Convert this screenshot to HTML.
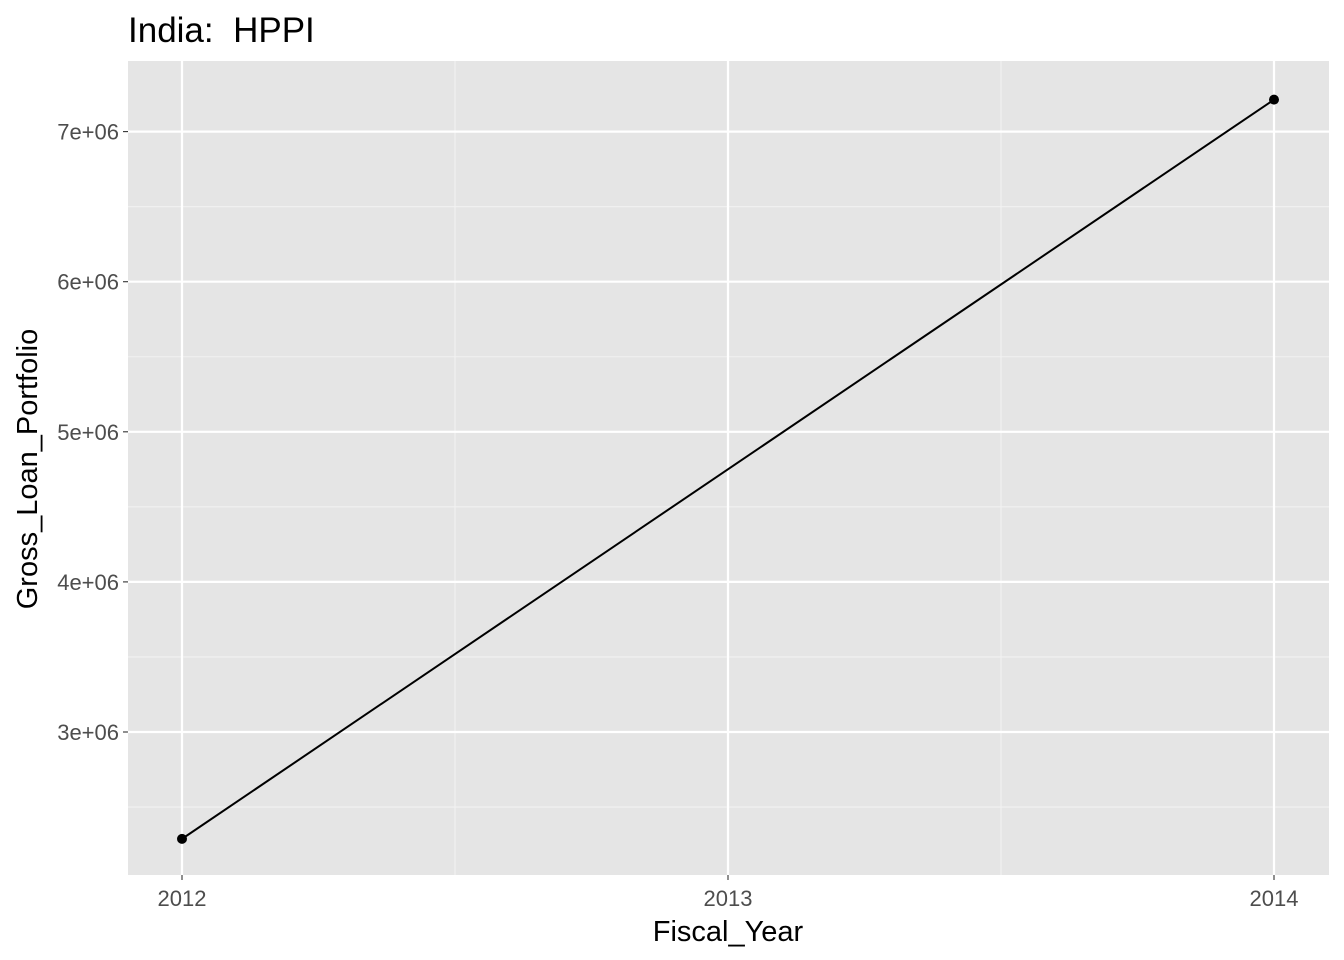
<!DOCTYPE html>
<html><head><meta charset="utf-8"><style>
html,body{margin:0;padding:0;background:#fff;}
svg{display:block;font-family:"Liberation Sans",Arial,sans-serif;}
</style></head><body>
<svg id="chart" width="1344" height="960" viewBox="0 0 1344 960">
<text x="128" y="42" font-size="35" fill="#000" style="white-space:pre" xml:space="preserve">India:  HPPI</text>
<rect x="128" y="61" width="1201" height="814" fill="#e5e5e5"/>
<g id="grid"></g>
<g id="marks"></g>
<g id="axes"></g>
<text x="728" y="941" font-size="29" text-anchor="middle" fill="#000">Fiscal_Year</text>
<text transform="translate(37,469) rotate(-90)" font-size="29" text-anchor="middle" fill="#000">Gross_Loan_Portfolio</text>
</svg>
<script>
const years = [2012, 2014];
const loans = [2288000, 7213000];
const xTicks = [2012, 2013, 2014];
const yTicks = [3e6, 4e6, 5e6, 6e6, 7e6];
const yTickLabels = ["3e+06", "4e+06", "5e+06", "6e+06", "7e+06"];

const NS = "http://www.w3.org/2000/svg";
function x(v){ return 182 + (v - 2012) * 546; }
function y(v){ return 732 - (v - 3e6) / 1e6 * 150.1; }
function mk(tag, attrs, parent){ const e=document.createElementNS(NS,tag); for(const k in attrs) e.setAttribute(k,attrs[k]); parent.appendChild(e); return e; }

const grid=document.getElementById('grid'), marks=document.getElementById('marks'), axes=document.getElementById('axes');
for(let i=0;i<xTicks.length-1;i++){
  const xm=(x(xTicks[i])+x(xTicks[i+1]))/2;
  const l=mk('line',{x1:xm,x2:xm,y1:61,y2:875,stroke:'#f2f2f2','stroke-width':1.1},grid);
  
  
}
const ymins=[yTicks[0]-0.5e6].concat(yTicks.map(v=>v+0.5e6));
ymins.forEach(v=>{ const yy=y(v); if(yy<61||yy>875) return;
  const l=mk('line',{x1:128,x2:1329,y1:yy,y2:yy,stroke:'#f2f2f2','stroke-width':1.1},grid);
  
  
});
xTicks.forEach(v=>{
  const l=mk('line',{x1:x(v),x2:x(v),y1:61,y2:875,stroke:'#fff','stroke-width':2.2},grid);
  
  
  const t=mk('line',{x1:x(v),x2:x(v),y1:875,y2:880,stroke:'#333','stroke-width':1.1},axes);
  
  
  const tx=mk('text',{x:x(v),y:906,'font-size':22,'text-anchor':'middle',fill:'#4d4d4d'},axes);
  tx.textContent=v;
  
  
});
yTicks.forEach((v,i)=>{
  const l=mk('line',{x1:128,x2:1329,y1:y(v),y2:y(v),stroke:'#fff','stroke-width':2.2},grid);
  
  
  const t=mk('line',{x1:123,x2:128,y1:y(v),y2:y(v),stroke:'#333','stroke-width':1.1},axes);
  
  
  const tx=mk('text',{x:119,y:y(v)+8,'font-size':22,'text-anchor':'end',fill:'#4d4d4d'},axes);
  tx.textContent=yTickLabels[i];
  
  
});
const pts=years.map((yr,i)=>x(yr)+','+y(loans[i])).join(' ');
const pl=mk('polyline',{points:pts,fill:'none',stroke:'#000','stroke-width':2},marks);


years.forEach((yr,i)=>{
  const c=mk('circle',{cx:x(yr),cy:y(loans[i]),r:5,fill:'#000'},marks);
  
  
});
</script>
</body></html>
